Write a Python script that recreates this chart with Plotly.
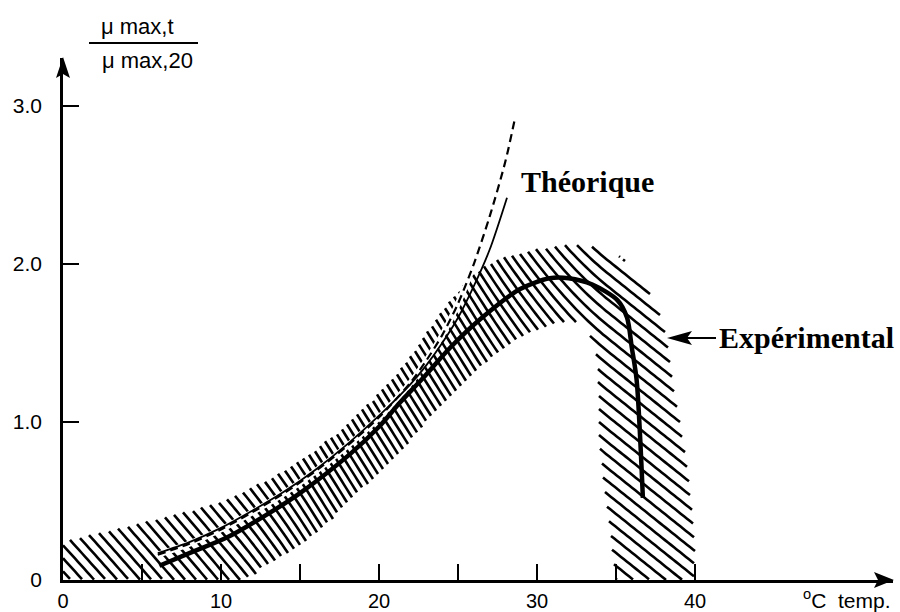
import numpy as np
import plotly.graph_objects as go

# ---------------- data ----------------
# experimental curve (bold)
exp_x = [6.1, 8.0, 10.4, 13.0, 15.0, 18.2, 20.0, 21.3, 22.8, 24.5, 26.4, 28.9, 30.8, 32.0, 33.5, 35.1, 35.7, 36.0, 36.3, 36.7]
exp_y = [0.09, 0.17, 0.27, 0.42, 0.55, 0.80, 0.97, 1.12, 1.28, 1.47, 1.65, 1.84, 1.91, 1.91, 1.87, 1.77, 1.66, 1.47, 1.27, 0.52]

# theoretical curves
th_dash_x = [6.0, 8, 10, 12, 14, 16, 18, 20, 22, 23, 24, 25, 26, 27, 28, 28.6]
th_dash_y = [0.16, 0.23, 0.32, 0.43, 0.55, 0.69, 0.85, 1.03, 1.25, 1.39, 1.55, 1.75, 2.00, 2.30, 2.65, 2.92]
th_solid_x = [6.0, 8, 10, 12, 14, 16, 18, 20, 22, 23, 24, 25, 26, 27, 28.1]
th_solid_y = [0.17, 0.24, 0.33, 0.44, 0.56, 0.70, 0.86, 1.04, 1.24, 1.36, 1.50, 1.66, 1.86, 2.09, 2.42]

# hatched experimental band: outer (upper) edge and inner (lower) edge
band_up_x = [0, 2, 4.4, 7.6, 10, 11.8, 15, 18.2, 21.3, 24.2, 26.4, 28.9, 31.9, 34.0, 35.6, 36.9, 37.8, 38.3, 38.7, 39.5, 40.0, 40.0]
band_up_y = [0.25, 0.29, 0.35, 0.43, 0.50, 0.58, 0.76, 1.01, 1.33, 1.73, 1.97, 2.07, 2.12, 2.10, 2.02, 1.86, 1.69, 1.50, 1.22, 0.74, 0.30, 0.0]
band_lo_x = [0, 10.8, 12.5, 14.5, 16.5, 18.5, 21.3, 23.9, 26.5, 28.5, 30.5, 32.3, 33.3, 33.8, 33.9, 34.0, 34.5, 35.0]
band_lo_y = [0, 0.0, 0.07, 0.18, 0.33, 0.53, 0.80, 1.09, 1.35, 1.50, 1.60, 1.63, 1.56, 1.40, 1.20, 0.84, 0.42, 0.0]

# slope of the hatching strokes (in screen units) along the temperature axis
hatch_at_x = [0, 11, 16, 26, 31, 34.5, 41]
hatch_slope = [1.1, 1.2, 1.6, 1.6, 1.2, 0.8, 0.8]

x_tickvals = [0, 10, 20, 30, 40]
x_ticktext = ["0", "10", "20", "30", "40"]
x_minor_ticks = [5, 15, 25, 35]
y_tickvals = [0, 1, 2, 3]
y_ticktext = ["0", "1.0", "2.0", "3.0"]

XMAX, YMAX = 52.53, 3.304
W, H = 900, 612
ML, MR, MT, MB = 63, 7, 58, 32
PW, PH = W - ML - MR, H - MT - MB

def to_px(x, y):
    return ML + np.asarray(x, float) * PW / XMAX, (H - MB) - np.asarray(y, float) * PH / YMAX

def to_data(X, Y):
    return (np.asarray(X) - ML) * XMAX / PW, ((H - MB) - np.asarray(Y)) * YMAX / PH

def px(xp):
    return (xp - ML) / PW

def py(yp):
    return (H - MB - yp) / PH

def catmull(xs, ys, n=12):
    P = np.column_stack([xs, ys])
    out = []
    m = len(P)
    for i in range(m - 1):
        p0 = P[max(i - 1, 0)]; p1 = P[i]; p2 = P[i + 1]; p3 = P[min(i + 2, m - 1)]
        for t in np.linspace(0, 1, n, endpoint=False):
            t2, t3 = t * t, t * t * t
            pt = 0.5 * ((2 * p1) + (-p0 + p2) * t + (2 * p0 - 5 * p1 + 4 * p2 - p3) * t2 + (-p0 + 3 * p1 - 3 * p2 + p3) * t3)
            out.append(pt)
    out.append(P[-1])
    return np.array(out)

# band polygon in screen pixels (smoothed edges)
UX, UY = to_px(band_up_x, band_up_y)
LX, LY = to_px(band_lo_x, band_lo_y)
up = catmull(UX, UY)
lo = catmull(LX, LY)
poly = np.vstack([up, lo[::-1]])

# raster mask of the band (scan-line fill, even-odd)
mask = np.zeros((H, W), bool)
ex1, ey1 = poly[:, 0], poly[:, 1]
ex2, ey2 = np.roll(ex1, -1), np.roll(ey1, -1)
for r in range(H):
    yc = r + 0.5
    cond = (ey1 > yc) != (ey2 > yc)
    if not cond.any():
        continue
    xi = ex1[cond] + (yc - ey1[cond]) * (ex2[cond] - ex1[cond]) / (ey2[cond] - ey1[cond])
    xi = np.sort(xi)
    for a, b in zip(xi[0::2], xi[1::2]):
        c0 = max(int(np.ceil(a - 0.5)), 0)
        c1 = min(int(np.floor(b - 0.5)), W - 1)
        if c1 >= c0:
            mask[r, c0:c1 + 1] = True
mask[H - MB:, :] = False

# hatch strokes: vertical translates of one gently curving stroke, clipped by the mask
Xs = np.arange(ML, ML + 41 * PW / XMAX, 1.0)
xd, _ = to_data(Xs, np.zeros_like(Xs))
slope = np.interp(xd, hatch_at_x, hatch_slope)
Hs = np.concatenate([[0], np.cumsum(slope[:-1])])
cols = Xs.astype(int)
rows_all, cols_all = np.nonzero(mask)
cvals = rows_all + 0.5 - Hs[np.clip(cols_all - ML, 0, len(Hs) - 1)]
spacing = 13.0
parts = []
for c in np.arange(cvals.min() - spacing, cvals.max() + spacing, spacing):
    Ys = c + Hs
    rows = np.floor(Ys).astype(int)
    ok = (rows >= 0) & (rows < H)
    ins = np.zeros(len(Xs), bool)
    ins[ok] = mask[rows[ok], cols[ok]]
    if ins.sum() < 2:
        continue
    idx = np.flatnonzero(ins)
    breaks = np.flatnonzero(np.diff(idx) > 1)
    starts = np.concatenate([[idx[0]], idx[breaks + 1]])
    ends = np.concatenate([idx[breaks], [idx[-1]]])
    for s, e in zip(starts, ends):
        sel = list(range(s, e + 1, 3))
        if sel[-1] != e:
            sel.append(e)
        if len(sel) < 2:
            continue
        dx, dy = to_data(Xs[sel], Ys[sel])
        parts.append("M" + " L".join(f"{a:.4f},{b:.4f}" for a, b in zip(dx, dy)))
hatch_path = " ".join(parts)

fig = go.Figure()
# white casing that keeps the theoretical pair readable inside the hatching
fig.add_trace(go.Scatter(x=th_dash_x, y=th_dash_y, mode="lines",
                         line=dict(color="white", width=6, shape="spline", smoothing=0.8),
                         hoverinfo="skip", showlegend=False))
fig.add_trace(go.Scatter(x=th_solid_x, y=th_solid_y, mode="lines",
                         line=dict(color="black", width=1.8, shape="spline", smoothing=0.8),
                         showlegend=False))
fig.add_trace(go.Scatter(x=th_dash_x, y=th_dash_y, mode="lines",
                         line=dict(color="black", width=2.2, dash="8px,5px", shape="spline", smoothing=0.8),
                         showlegend=False))
fig.add_trace(go.Scatter(x=exp_x, y=exp_y, mode="lines",
                         line=dict(color="black", width=4.5, shape="spline", smoothing=0.8),
                         showlegend=False))

sans = "Liberation Sans, Arial, sans-serif"
serif = "Liberation Serif, Times New Roman, serif"

fig.update_xaxes(range=[0, XMAX], showgrid=False, zeroline=False, showline=True,
                 linecolor="black", linewidth=2.5, ticks="inside", ticklen=16, tickwidth=1.8,
                 tickcolor="black", tickvals=x_tickvals, ticktext=x_ticktext,
                 minor=dict(tickvals=x_minor_ticks, ticks="inside", ticklen=16, tickwidth=1.8,
                            tickcolor="black", showgrid=False),
                 tickfont=dict(family=sans, size=20, color="black"),
                 ticklabelstandoff=1, automargin=False, fixedrange=True)
fig.update_yaxes(range=[0, YMAX], showgrid=False, zeroline=False, showline=True,
                 linecolor="black", linewidth=2.5, ticks="inside", ticklen=16, tickwidth=1.8,
                 tickcolor="black", tickvals=y_tickvals, ticktext=y_ticktext,
                 tickfont=dict(family=sans, size=21, color="black"),
                 ticklabelstandoff=14, automargin=False, fixedrange=True)

def ppath(points):
    s = ""
    for i, (a, b) in enumerate(points):
        s += ("M" if i == 0 else "L") + f"{px(a):.5f},{py(b):.5f} "
    return s + "Z"

shapes = [
    # hatching of the experimental band
    dict(type="path", xref="x", yref="y", path=hatch_path, layer="below",
         line=dict(color="black", width=2.6), fillcolor="rgba(0,0,0,0)"),
    # fraction bar of the y title
    dict(type="line", xref="paper", yref="paper", x0=px(89), x1=px(198), y0=py(43), y1=py(43),
         line=dict(color="black", width=1.8)),
    # y-axis arrowhead
    dict(type="path", xref="paper", yref="paper",
         path=ppath([(63, 57), (56, 78), (63, 74), (70, 78)]), fillcolor="black", line=dict(width=0)),
    # x-axis arrowhead
    dict(type="path", xref="paper", yref="paper",
         path=ppath([(894, 580), (874, 572), (878, 580), (874, 588)]), fillcolor="black", line=dict(width=0)),
    # pointer to "Expérimental"
    dict(type="line", xref="paper", yref="paper", x0=px(685), x1=px(716), y0=py(338), y1=py(338),
         line=dict(color="black", width=2)),
    dict(type="path", xref="paper", yref="paper",
         path=ppath([(667, 338), (692, 331), (687, 338), (692, 345)]), fillcolor="black", line=dict(width=0)),
]

ann = []
ann.append(dict(x=px(137), y=py(27), xref="paper", yref="paper", text="μ max,t", showarrow=False,
                font=dict(family=sans, size=22, color="black"), xanchor="center", yanchor="middle"))
ann.append(dict(x=px(147), y=py(60), xref="paper", yref="paper", text="μ max,20", showarrow=False,
                font=dict(family=sans, size=22, color="black"), xanchor="center", yanchor="middle"))
ann.append(dict(x=px(893), y=py(599), xref="paper", yref="paper", text="<sup>o</sup>C  temp.", showarrow=False,
                font=dict(family=sans, size=21, color="black"), xanchor="right", yanchor="middle"))
ann.append(dict(x=px(519), y=py(181), xref="paper", yref="paper", text="<b>Théorique</b>", showarrow=False,
                font=dict(family=serif, size=30, color="black"), xanchor="left", yanchor="middle"))
ann.append(dict(x=px(717), y=py(337), xref="paper", yref="paper", text="<b>Expérimental</b>", showarrow=False,
                font=dict(family=serif, size=30, color="black"), xanchor="left", yanchor="middle"))

fig.update_layout(
    width=W, height=H, margin=dict(l=ML, r=MR, t=MT, b=MB),
    paper_bgcolor="white", plot_bgcolor="white",
    annotations=ann, shapes=shapes, showlegend=False,
)

fig.write_html("out.html")
